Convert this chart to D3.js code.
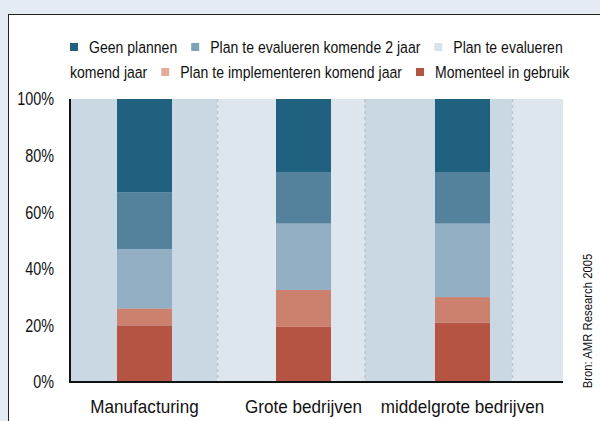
<!DOCTYPE html>
<html>
<head>
<meta charset="utf-8">
<script src="https://cdn.jsdelivr.net/npm/d3@7"></script>
<style>
  body { margin: 0; background: #e4ebf3; }
  svg text { font-family: "Liberation Sans", Arial, sans-serif; fill: #111; }
</style>
</head>
<body>
<div id="chart"></div>
<script>
// Data (percent of respondents)
const categories = ['Manufacturing', 'Grote bedrijven', 'middelgrote bedrijven'];
const momenteelInGebruik = [20, 19.5, 21];
const planImplementeren = [6, 13, 9];
const planEvaluerenJaar = [21, 23.5, 26];
const planEvalueren2Jaar = [20, 18, 18];
const geenPlannen = [33, 26, 26];
const yTickValues = [0, 20, 40, 60, 80, 100];
const sourceText = 'Bron: AMR Research 2005';

// stack order bottom -> top
const seriesNames = ['Momenteel in gebruik', 'Plan te implementeren komend jaar',
    'Plan te evalueren komend jaar', 'Plan te evalueren komende 2 jaar', 'Geen plannen'];
const seriesValues = [momenteelInGebruik, planImplementeren, planEvaluerenJaar, planEvalueren2Jaar, geenPlannen];
const barColors = ['#b55442', '#cc816f', '#92afc3', '#54829d', '#20617f'];
const legendColors = ['#b55442', '#e2ab9b', '#d7e3ec', '#7ea1ba', '#20617f'];
// legend reads top-down order
const legendOrder = [4, 3, 2, 1, 0];

const W = 600, H = 421;
const plot = { left: 70, right: 563, top: 99, bottom: 382 };

// no narrow font installed, so squeeze Liberation Sans horizontally
const condense = (sel, x, y, sx) => sel.attr('transform', `translate(${x},${y}) scale(${sx},1)`);

const svg = d3.select('#chart').append('svg')
    .attr('width', W)
    .attr('height', H);

// white panel
svg.append('rect')
    .attr('x', 8.5).attr('y', 14.5)
    .attr('width', 640).attr('height', 440)
    .attr('fill', '#fff')
    .attr('stroke', '#222')
    .attr('stroke-width', 1);

// build table for stack
const table = categories.map((c, i) => {
    const row = { category: c };
    seriesNames.forEach((s, j) => { row[s] = seriesValues[j][i]; });
    return row;
});
const stacked = d3.stack().keys(seriesNames)(table);

// scales
const y = d3.scaleLinear().domain([0, 100]).range([plot.bottom, plot.top]);
const x = d3.scalePoint().domain(categories).range([144.5, 462.5]);
const barWidth = 55;
// background slots (chart continues past the crop on the right)
const slots = d3.scaleBand().domain(d3.range(4)).range([plot.left, plot.left + 4 * 147.5]);
const slotColors = ['#cad8e3', '#dde5ed'];

svg.append('g')
    .selectAll('rect')
    .data(slots.domain())
    .join('rect')
    .attr('x', d => slots(d))
    .attr('y', plot.top)
    .attr('width', d => Math.max(0, Math.min(slots(d) + slots.bandwidth(), plot.right) - slots(d)))
    .attr('height', plot.bottom - plot.top)
    .attr('fill', d => slotColors[d % 2]);

svg.append('g')
    .selectAll('line')
    .data(slots.domain().slice(1).filter(d => slots(d) < plot.right))
    .join('line')
    .attr('x1', d => slots(d)).attr('x2', d => slots(d))
    .attr('y1', plot.top).attr('y2', plot.bottom)
    .attr('stroke', '#bcc5ce')
    .attr('stroke-width', 1.5)
    .attr('stroke-dasharray', '3,3');

// bars
svg.append('g')
    .selectAll('g')
    .data(stacked)
    .join('g')
    .attr('fill', (d, i) => barColors[i])
    .selectAll('rect')
    .data(d => d)
    .join('rect')
    .attr('x', d => x(d.data.category) - barWidth / 2)
    .attr('y', d => y(d[1]))
    .attr('width', barWidth)
    .attr('height', d => y(d[0]) - y(d[1]));

// axes lines
svg.append('line')
    .attr('x1', plot.left).attr('x2', plot.left)
    .attr('y1', plot.top).attr('y2', plot.bottom + 1)
    .attr('stroke', '#111').attr('stroke-width', 2);
svg.append('line')
    .attr('x1', plot.left - 1).attr('x2', plot.right)
    .attr('y1', plot.bottom).attr('y2', plot.bottom)
    .attr('stroke', '#111').attr('stroke-width', 2);

// y tick labels
svg.append('g')
    .selectAll('text')
    .data(yTickValues)
    .join('text')
    .attr('dy', '0.35em')
    .attr('text-anchor', 'end')
    .style('font-size', '18px')
    .text(d => d + '%')
    .each(function(d) { condense(d3.select(this), 54, y(d), 0.8); });

// category labels
svg.append('g')
    .selectAll('text')
    .data(categories)
    .join('text')
    .attr('text-anchor', 'middle')
    .style('font-size', '18px')
    .text(d => d)
    .each(function(d) { condense(d3.select(this), x(d), 413, 0.95); });

// source
svg.append('text')
    .attr('transform', 'translate(592,321) rotate(-90) scale(0.84,1)')
    .attr('text-anchor', 'middle')
    .style('font-size', '13.5px')
    .text(sourceText);

// legend, flowing words with wrap
const legendSx = 0.84;
const legend = svg.append('g').style('font-size', '16.7px');
const legendLeft = 70, legendRight = 584, lineH = 25;
let lx = legendLeft, ly = 47;
legendOrder.forEach((si, k) => {
    if (k > 0) lx += 14;
    legend.append('rect')
        .attr('x', lx).attr('y', ly - 4)
        .attr('width', 8).attr('height', 8)
        .attr('fill', legendColors[si]);
    lx += 19;
    const words = seriesNames[si].split(' ');
    words.forEach((w, wi) => {
        const t = legend.append('text')
            .attr('dy', '0.35em')
            .text(w);
        const len = t.node().getComputedTextLength() * legendSx;
        const space = wi > 0 ? 4 : 0;
        if (lx + space + len > legendRight) {
            lx = legendLeft; ly += lineH;
        } else {
            lx += space;
        }
        condense(t, lx, ly, legendSx);
        lx += len;
    });
});
</script>
</body>
</html>
